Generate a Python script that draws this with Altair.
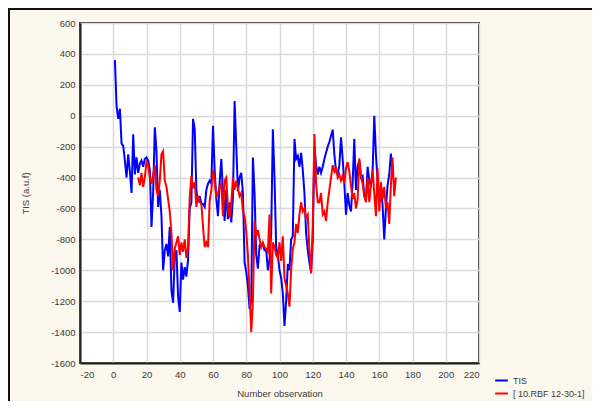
import altair as alt
import pandas as pd

# ---- data ----
tis_x = list(range(1, 169))
tis_y = [
    360, 60, -20, 45, -180, -195, -290, -400, -250, -360,
    -500, -120, -380, -270, -370, -310, -290, -330, -280, -270,
    -290, -350, -720, -500, -75, -230, -590, -480, -650, -1000,
    -870, -830, -910, -720, -1130, -1210, -910, -870, -1170, -1270,
    -950, -1060, -980, -1040, -930, -600, -560, -20, -85, -480,
    -560, -520, -570, -570, -590, -480, -440, -420, -440, -65,
    -350, -540, -650, -430, -280, -500, -680, -480, -670, -560,
    -690, -530, 95, -200, -490, -400, -370, -500, -950, -1010,
    -1100, -1250, -1200, -270, -500, -900, -990, -840, -830, -830,
    -870, -870, -1000, -930, -760, -88, -400, -850, -900, -1000,
    -1050, -1150, -1360, -1200, -960, -1000, -800, -780, -150, -280,
    -260, -330, -240, -350, -500, -760, -870, -950, -1010, -800,
    -200, -320, -380, -330, -370, -330, -280, -240, -200, -170,
    -130, -90, -250, -360, -380, -320, -140, -280, -440, -640,
    -500, -580, -620, -430, -150, -480, -330, -290, -400, -390,
    -520, -540, -330, -420, -460, -360, 0, -250, -420, -560,
    -460, -580, -800, -600, -450, -380, -245, -380,
]

rbf_x = list(range(15, 171))
rbf_y = [
    -400, -450, -370, -460, -400, -300, -320, -400, -440, -380,
    -320, -480, -520, -420, -250, -230, -420, -460, -540, -620,
    -760, -1000, -860, -820, -780, -900, -820, -880, -800, -920,
    -850, -530, -390, -470, -430, -590, -520, -560, -570, -720,
    -850, -820, -850, -550, -480, -350, -420, -530, -500, -460,
    -440, -650, -420, -400, -600, -660, -570, -400, -480, -420,
    -470, -520, -500, -620, -650, -750, -900, -1150, -1400, -1200,
    -680, -780, -740, -800, -850, -820, -850, -860, -880, -640,
    -1150, -820, -850, -900, -920, -820, -940, -780, -1050, -1100,
    -1150, -1235, -1000, -860, -820, -700, -760, -640, -560, -620,
    -600, -660, -640, -870, -1020, -720, -118, -440, -560, -560,
    -500, -640, -620, -680, -560, -480, -400, -320, -360, -330,
    -400, -380, -420, -390, -440, -340, -300, -360, -450, -540,
    -500, -600, -540, -275, -390, -440, -520, -560, -400, -560,
    -450, -350, -500, -650, -340, -620, -430, -540, -460, -600,
    -560, -700, -450, -270, -520, -400,
]

series_names = ["TIS", "[ 10.RBF  12-30-1]"]
series_colors = ["#0000ff", "#ff0000"]
x_ticks = list(range(-20, 221, 20))
y_ticks = list(range(-1600, 601, 200))

df = pd.concat([
    pd.DataFrame({"obs": tis_x, "val": tis_y, "series": series_names[0]}),
    pd.DataFrame({"obs": rbf_x, "val": rbf_y, "series": series_names[1]}),
])

FONT = "Liberation Sans"
TXT = "#3a3a3a"

lines = alt.Chart(df).mark_line(strokeWidth=2, clip=True).encode(
    x=alt.X("obs:Q",
            scale=alt.Scale(domain=[-20, 220], nice=False, zero=False),
            axis=alt.Axis(values=x_ticks, title="Number observation",
                          labelExpr="'' + datum.value",
                          tickSize=0, labelPadding=6, titlePadding=10,
                          domainColor="#222", domainWidth=2,
                          gridColor="#d9d9d9", gridWidth=1.5,
                          labelFont=FONT, labelFontSize=9.5, labelColor=TXT,
                          titleFont=FONT, titleFontSize=9.5, titleColor=TXT,
                          titleFontWeight="normal")),
    y=alt.Y("val:Q",
            scale=alt.Scale(domain=[-1600, 600], nice=False, zero=False),
            axis=alt.Axis(values=y_ticks, title="TIS (a.u.f)",
                          labelExpr="'' + datum.value",
                          tickSize=0, labelPadding=5, titlePadding=20,
                          domainColor="#222", domainWidth=2,
                          gridColor="#d9d9d9", gridWidth=1.5,
                          labelFont=FONT, labelFontSize=9.5, labelColor=TXT,
                          titleFont=FONT, titleFontSize=9.5, titleColor=TXT,
                          titleFontWeight="normal")),
    color=alt.Color("series:N",
                    scale=alt.Scale(domain=series_names, range=series_colors),
                    sort=series_names,
                    legend=alt.Legend(title=None, orient="none",
                                      legendX=414, legendY=350,
                                      symbolType="stroke", symbolStrokeWidth=2,
                                      symbolSize=160, rowPadding=0,
                                      labelFont=FONT, labelFontSize=9,
                                      labelColor=TXT)),
    detail="series:N",
)

frame_src = alt.Data(values=[{"k": 1}])
top_border = alt.Chart(frame_src).mark_rule(color="#111", strokeWidth=2).encode(
    x=alt.value(-72), x2=alt.value(512), y=alt.value(-14))
left_border = alt.Chart(frame_src).mark_rule(color="#111", strokeWidth=2).encode(
    x=alt.value(-71), y=alt.value(-15), y2=alt.value(378))

chart = alt.layer(lines, top_border, left_border).properties(
    width=399, height=340,
    autosize=alt.AutoSizeParams(type="none"),
    padding={"left": 72, "top": 15, "right": 113, "bottom": 38},
    background="#fdf8ee",
).configure_view(
    stroke="#333", strokeWidth=2, fill="white"
)

chart.save("out.html", embed_options={"renderer": "svg", "actions": False})
